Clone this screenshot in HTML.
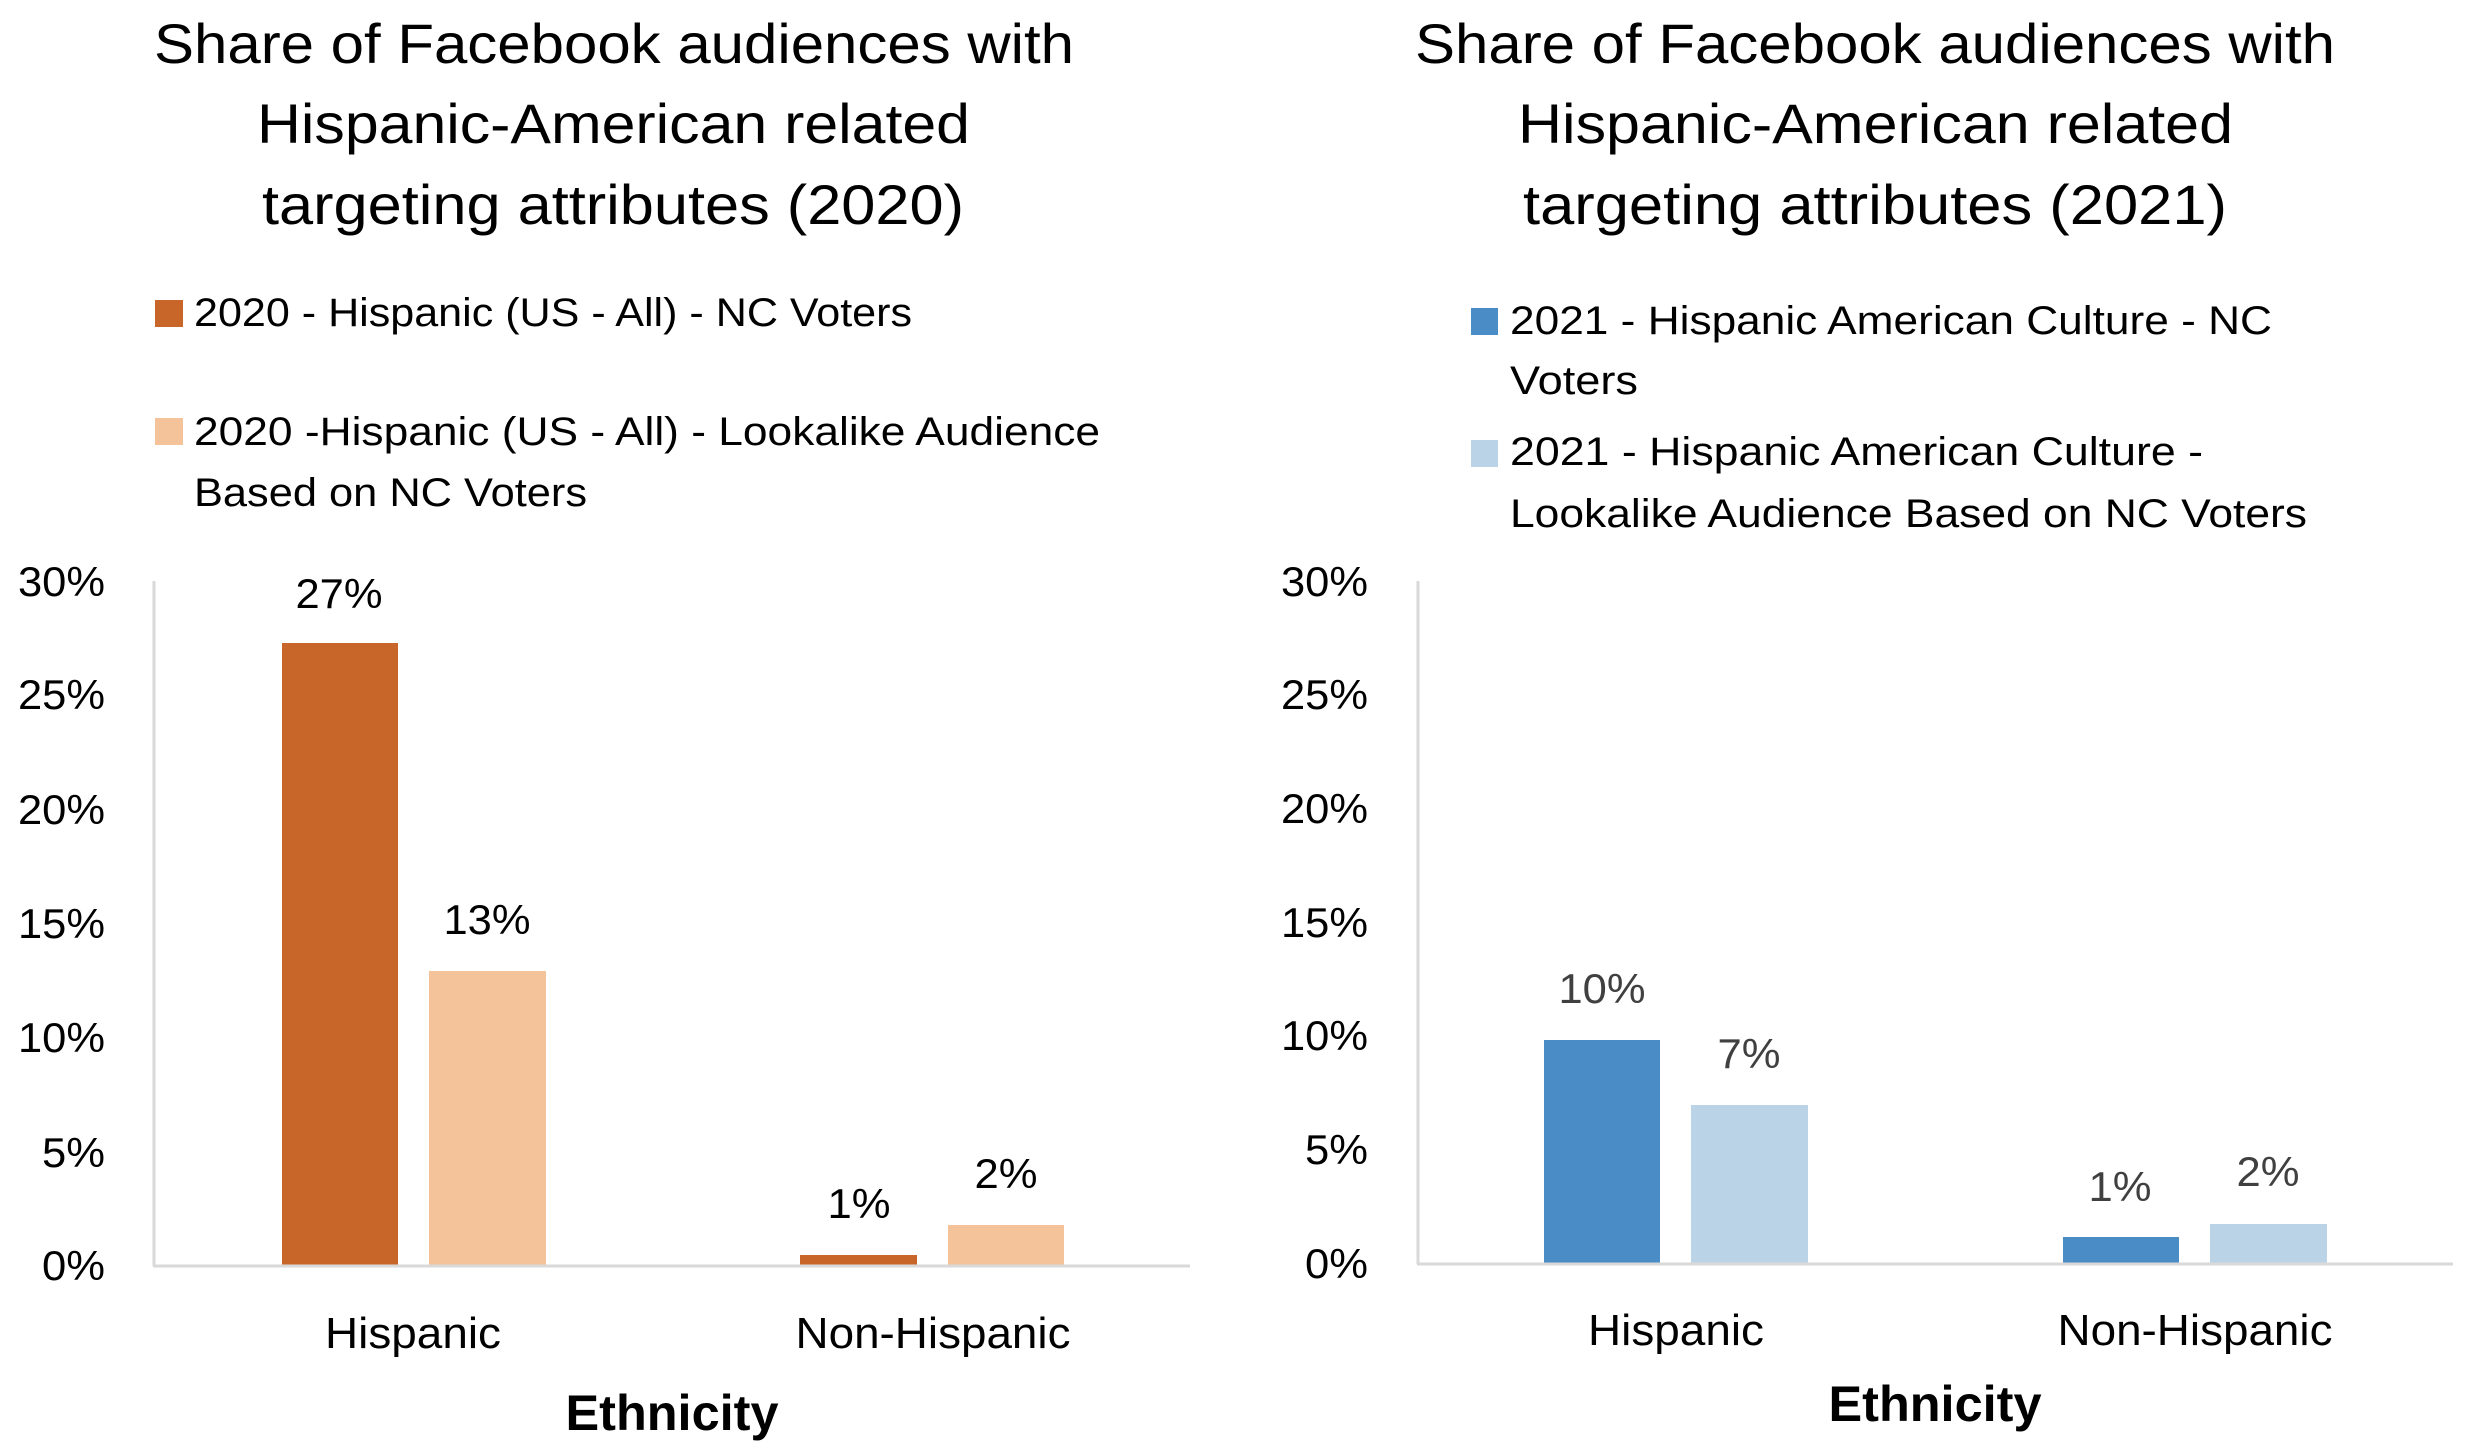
<!DOCTYPE html>
<html><head><meta charset="utf-8"><style>
html,body{margin:0;padding:0;background:#fff}
svg{display:block}
text{font-family:"Liberation Sans",sans-serif;fill:#000}
</style></head><body>
<svg width="2474" height="1448" viewBox="0 0 2474 1448" xmlns="http://www.w3.org/2000/svg">
<rect width="2474" height="1448" fill="#fff"/>
<!-- LEFT CHART -->
<g font-size="56">
<text x="154" y="63" textLength="920" lengthAdjust="spacingAndGlyphs">Share of Facebook audiences with</text>
<text x="257" y="143" textLength="713" lengthAdjust="spacingAndGlyphs">Hispanic-American related</text>
<text x="262" y="224" textLength="702" lengthAdjust="spacingAndGlyphs">targeting attributes (2020)</text>
</g>
<rect x="155" y="300" width="28" height="27" fill="#C8662A"/>
<rect x="155" y="418" width="28" height="27" fill="#F4C399"/>
<g font-size="40">
<text x="194" y="326" textLength="718" lengthAdjust="spacingAndGlyphs">2020 - Hispanic (US - All) - NC Voters</text>
<text x="194" y="445" textLength="906" lengthAdjust="spacingAndGlyphs">2020 -Hispanic (US - All) - Lookalike Audience</text>
<text x="194" y="506" textLength="393" lengthAdjust="spacingAndGlyphs">Based on NC Voters</text>
</g>
<g font-size="42" text-anchor="end">
<text x="105" y="596" textLength="87" lengthAdjust="spacingAndGlyphs">30%</text><text x="105" y="709" textLength="87" lengthAdjust="spacingAndGlyphs">25%</text><text x="105" y="824" textLength="87" lengthAdjust="spacingAndGlyphs">20%</text>
<text x="105" y="938" textLength="87" lengthAdjust="spacingAndGlyphs">15%</text><text x="105" y="1052" textLength="87" lengthAdjust="spacingAndGlyphs">10%</text><text x="105" y="1167" textLength="63" lengthAdjust="spacingAndGlyphs">5%</text><text x="105" y="1280" textLength="63" lengthAdjust="spacingAndGlyphs">0%</text>
</g>
<line x1="154" y1="581" x2="154" y2="1266" stroke="#d9d9d9" stroke-width="3"/>
<rect x="282" y="643" width="116" height="622" fill="#C8662A"/>
<rect x="429" y="971" width="117" height="294" fill="#F4C399"/>
<rect x="800" y="1255" width="117" height="10" fill="#C8662A"/>
<rect x="948" y="1225" width="116" height="40" fill="#F4C399"/>
<line x1="153" y1="1266" x2="1190" y2="1266" stroke="#d9d9d9" stroke-width="3"/>
<g font-size="42" text-anchor="middle">
<text x="339" y="608" textLength="87" lengthAdjust="spacingAndGlyphs">27%</text><text x="487" y="934" textLength="87" lengthAdjust="spacingAndGlyphs">13%</text>
<text x="859" y="1218" textLength="63" lengthAdjust="spacingAndGlyphs">1%</text><text x="1006" y="1188" textLength="63" lengthAdjust="spacingAndGlyphs">2%</text>
</g>
<g font-size="44" text-anchor="middle">
<text x="413" y="1348" textLength="176" lengthAdjust="spacingAndGlyphs">Hispanic</text><text x="933" y="1348" textLength="275" lengthAdjust="spacingAndGlyphs">Non-Hispanic</text>
<text x="672" y="1430" font-weight="bold" font-size="50" textLength="213" lengthAdjust="spacingAndGlyphs">Ethnicity</text>
</g>
<!-- RIGHT CHART -->
<g font-size="56">
<text x="1415" y="63" textLength="920" lengthAdjust="spacingAndGlyphs">Share of Facebook audiences with</text>
<text x="1518" y="143" textLength="715" lengthAdjust="spacingAndGlyphs">Hispanic-American related</text>
<text x="1523" y="224" textLength="704" lengthAdjust="spacingAndGlyphs">targeting attributes (2021)</text>
</g>
<rect x="1471" y="308" width="27" height="27" fill="#4A8CC6"/>
<rect x="1471" y="440" width="27" height="27" fill="#BBD3E7"/>
<g font-size="40">
<text x="1510" y="334" textLength="762" lengthAdjust="spacingAndGlyphs">2021 - Hispanic American Culture - NC</text>
<text x="1510" y="394" textLength="128" lengthAdjust="spacingAndGlyphs">Voters</text>
<text x="1510" y="465" textLength="693" lengthAdjust="spacingAndGlyphs">2021 - Hispanic American Culture -</text>
<text x="1510" y="527" textLength="797" lengthAdjust="spacingAndGlyphs">Lookalike Audience Based on NC Voters</text>
</g>
<g font-size="42" text-anchor="end">
<text x="1368" y="596" textLength="87" lengthAdjust="spacingAndGlyphs">30%</text><text x="1368" y="709" textLength="87" lengthAdjust="spacingAndGlyphs">25%</text><text x="1368" y="823" textLength="87" lengthAdjust="spacingAndGlyphs">20%</text>
<text x="1368" y="937" textLength="87" lengthAdjust="spacingAndGlyphs">15%</text><text x="1368" y="1050" textLength="87" lengthAdjust="spacingAndGlyphs">10%</text><text x="1368" y="1164" textLength="63" lengthAdjust="spacingAndGlyphs">5%</text><text x="1368" y="1278" textLength="63" lengthAdjust="spacingAndGlyphs">0%</text>
</g>
<line x1="1418" y1="581" x2="1418" y2="1264" stroke="#d9d9d9" stroke-width="3"/>
<rect x="1544" y="1040" width="116" height="223" fill="#4A8CC6"/>
<rect x="1691" y="1105" width="117" height="158" fill="#BBD3E7"/>
<rect x="2063" y="1237" width="116" height="26" fill="#4A8CC6"/>
<rect x="2210" y="1224" width="117" height="39" fill="#BBD3E7"/>
<line x1="1417" y1="1264" x2="2453" y2="1264" stroke="#d9d9d9" stroke-width="3"/>
<g font-size="42" text-anchor="middle">
<text x="1602" y="1003" fill="#404040" style="fill:#404040" textLength="87" lengthAdjust="spacingAndGlyphs">10%</text><text x="1749" y="1068" style="fill:#404040" textLength="63" lengthAdjust="spacingAndGlyphs">7%</text>
<text x="2120" y="1201" style="fill:#404040" textLength="63" lengthAdjust="spacingAndGlyphs">1%</text><text x="2268" y="1186" style="fill:#404040" textLength="63" lengthAdjust="spacingAndGlyphs">2%</text>
</g>
<g font-size="44" text-anchor="middle">
<text x="1676" y="1345" textLength="176" lengthAdjust="spacingAndGlyphs">Hispanic</text><text x="2195" y="1345" textLength="275" lengthAdjust="spacingAndGlyphs">Non-Hispanic</text>
<text x="1935" y="1421" font-weight="bold" font-size="50" textLength="213" lengthAdjust="spacingAndGlyphs">Ethnicity</text>
</g>
</svg>
</body></html>
